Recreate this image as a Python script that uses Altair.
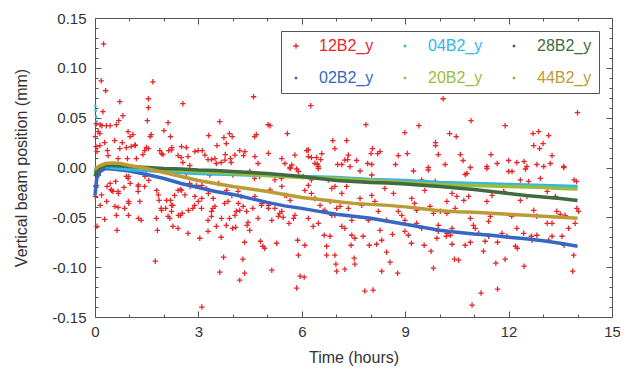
import altair as alt
import pandas as pd

SERIES = ["12B2_y", "02B2_y", "04B2_y", "20B2_y", "28B2_y", "44B2_y"]
COLORS = ["#e8262a", "#3667c2", "#2fb8e8", "#9cbc3c", "#3e6b40", "#bb9b35"]
CROSS = "M-1,0L1,0M0,-1L0,1"
DOT = "M-0.3,0A0.3,0.3,0,1,1,0.3,0A0.3,0.3,0,1,1,-0.3,0Z"
SHAPES = [CROSS, DOT, DOT, DOT, DOT, DOT]

# 12B2_y scatter (time in hours, position in mm)
red_pts = [
    (0.25,0.124),(0.18,0.087),(0.31,0.077),(1.68,0.086),(0.72,0.066),(1.55,0.069),(1.55,0.060),
    (2.55,0.064),(4.60,0.071),(0.23,0.056),(0.81,0.052),(0.69,0.047),(1.52,0.047),(2.12,0.045),
    (0.04,0.044),(0.20,0.042),(0.33,0.042),(0.44,0.042),(0.62,0.043),(3.62,0.046),(0.09,0.036),
    (0.14,0.034),(0.96,0.036),(1.10,0.033),(1.02,0.031),(1.63,0.033),(1.60,0.031),(2.00,0.037),
    (2.19,0.031),(3.30,0.032),(3.74,0.030),(3.90,0.034),(3.98,0.031),(3.81,0.024),(4.63,0.031),
    (4.68,0.033),(5.02,0.043),(0.14,0.022),(0.28,0.025),(0.57,0.027),(0.79,0.025),(1.05,0.021),
    (1.17,0.022),(1.49,0.020),(0.72,0.019),(0.91,0.020),(0.36,0.017),(0.38,0.012),(1.44,0.017),
    (1.39,0.013),(1.88,0.017),(1.97,0.013),(2.14,0.017),(2.23,0.020),(2.41,0.012),(2.50,0.010),
    (2.65,0.020),(2.70,0.011),(2.99,0.017),(3.11,0.017),(3.28,0.008),(3.38,0.008),(3.54,0.022),
    (3.78,0.013),(3.93,0.009),(3.95,0.005),(4.20,0.017),(4.31,0.012),(4.73,0.004),(0.94,0.009),
    (1.20,0.009),(2.55,0.005),(2.75,0.002),(3.52,0.004),(3.66,0.005),(0.67,0.009),
    (0.01,0.031),(0.03,0.021),(0.06,0.016),(0.15,0.043),
    (0.04,-0.018),(0.35,-0.019),(0.47,-0.022),(0.52,-0.024),(0.67,-0.024),(0.84,-0.020),(0.60,-0.014),
    (0.91,-0.009),(0.96,-0.011),(1.25,-0.019),(1.25,-0.024),(1.44,-0.019),(1.56,-0.013),(0.98,-0.036),
    (0.86,-0.041),(0.67,-0.040),(1.30,-0.034),(0.06,-0.059),(0.28,-0.052),(0.62,-0.048),(0.64,-0.063),
    (1.34,-0.053),(1.78,-0.051),(1.81,-0.063),(1.75,-0.094),(1.86,-0.033),(1.92,-0.041),(2.05,-0.041),
    (2.19,-0.033),(2.26,-0.038),(2.12,-0.049),(2.17,-0.051),(2.26,-0.059),(2.41,-0.061),(2.48,-0.048),
    (2.53,-0.046),(2.31,-0.028),(2.41,-0.023),(2.48,-0.022),(2.70,-0.066),(2.84,-0.041),(2.89,-0.038),
    (3.04,-0.071),(3.10,-0.140),(3.10,-0.031),(3.28,-0.053),(3.28,-0.064),(3.38,-0.044),(3.42,-0.041),
    (3.52,-0.059),(3.62,-0.105),(3.73,-0.090),(3.66,-0.070),(3.81,-0.058),(3.90,-0.051),(3.99,-0.061),
    (4.08,-0.060),(3.76,-0.036),(3.86,-0.034),(4.20,-0.113),(4.34,-0.106),(4.29,-0.092),(4.34,-0.075),
    (4.10,-0.044),(4.20,-0.043),(4.44,-0.055),(4.41,-0.058),(4.49,-0.063),(4.58,-0.041),(4.73,-0.051),
    (4.80,-0.074),(4.87,-0.079),(4.92,-0.081),(4.83,-0.038),(4.15,-0.024),(4.24,-0.029),(2.75,-0.016),
    (2.94,-0.018),(3.10,-0.018),(3.23,-0.021),(4.63,-0.011),(4.78,-0.009),
    (0.02,-0.019),(0.01,-0.029),(0.15,-0.038),
    (1.20,-0.001),(1.49,-0.0025),(2.07,-0.004),(2.65,-0.006),(3.33,-0.0075),(4.00,-0.0075),(4.49,-0.004),
    (0.10,-0.0075),(0.44,-0.016),(0.48,-0.023),(0.68,-0.026),(0.97,-0.009),(1.02,-0.016),(0.97,-0.034),
    (1.26,-0.0175),(1.45,-0.009),(1.79,-0.023),(1.84,-0.0275),(2.08,-0.033),(2.22,-0.038),(2.22,-0.044),
    (2.51,-0.023),(2.61,-0.0275),(2.76,-0.019),(2.90,-0.029),(3.00,-0.034),(3.09,-0.041),(3.29,-0.026),
    (3.43,-0.031),(3.48,-0.039),(3.58,-0.016),(3.82,-0.023),(3.97,-0.028),(4.16,-0.036),(4.30,-0.039),
    (4.40,-0.044),(4.64,-0.029),(4.84,-0.036),(5.03,-0.041),(5.22,-0.0125),(5.42,-0.019),(5.56,-0.028),
    (5.71,0.0025),(5.90,-0.004),(6.04,-0.009),(6.19,0.011),(6.38,0.0042),(6.48,-0.001),(6.77,-0.0125),
    (6.96,-0.019),(7.16,-0.026),(6.67,-0.043),(6.87,-0.048),(7.11,-0.039),(7.25,0.0075),(7.40,0.0008),
    (5.42,-0.044),(5.80,-0.048),(6.19,-0.051),(3.38,-0.049),(3.67,-0.051),(4.06,-0.048),(1.93,-0.043),
    (2.42,-0.048),(2.71,-0.043),(0.58,-0.039),(0.97,-0.048),(1.26,-0.051),(0.19,-0.0275),(0.34,-0.034),
    (1.16,0.0226),(1.55,0.019),(1.93,0.014),(2.22,0.0176),(2.51,0.021),(2.90,0.016),(3.19,0.0125),
    (3.48,0.009),(3.77,0.0075),(4.06,0.0125),(4.35,0.016),(4.64,0.011),(5.03,0.0142),(5.42,0.009),
    (5.80,0.0125),(6.19,0.0176),(6.58,0.014),(6.96,0.019),(7.35,0.0125),
    (6.26,0.062),(5.08,0.042),(7.86,0.043),(9.40,0.042),(5.58,0.034),(6.90,0.027),(7.30,0.027),
    (8.99,0.035),(9.88,0.025),(9.88,0.022),(6.14,0.017),(6.28,0.010),(6.43,0.010),(6.55,0.008),
    (6.45,0.0035),(8.05,0.019),(8.01,0.014),(8.20,0.014),(8.27,0.016),(8.80,0.012),(9.06,0.014),
    (9.96,0.013),(7.59,0.007),(7.04,0.003),(7.16,0.003),(7.33,0.008),(7.91,0.004),(8.03,0.003),
    (5.51,0.004),(5.66,0.000),(8.72,0.003),(9.67,0.000),
    (10.10,0.069),(14.00,0.055),(10.91,0.047),(11.90,0.042),(10.29,0.034),(10.48,0.031),(12.71,0.034),
    (12.87,0.036),(13.16,0.032),(13.00,0.024),(12.73,0.022),(12.90,0.019),(10.60,0.013),(10.68,0.007),
    (11.49,0.013),(11.67,0.004),(12.00,0.007),(12.24,0.005),(12.45,0.006),(13.26,0.012),(13.21,0.004),
    (13.60,0.000),(11.37,0.001),(10.16,0.003),(10.89,0.000),(12.53,0.001),(12.82,0.003),
    (5.13,-0.103),(5.85,-0.121),(5.95,-0.109),(6.07,-0.110),(5.27,-0.076),(5.90,-0.088),(5.88,-0.073),
    (6.09,-0.078),(6.72,-0.079),(6.72,-0.088),(6.96,-0.088),(6.99,-0.097),(7.01,-0.104),(7.25,-0.102),
    (7.43,-0.078),(7.52,-0.091),(7.54,-0.097),(7.83,-0.124),(8.07,-0.123),(8.32,-0.104),(8.56,-0.095),
    (8.78,-0.106),(8.46,-0.085),(7.96,-0.078),(8.17,-0.077),(9.18,-0.076),(9.55,-0.078),(9.75,-0.084),
    (9.82,-0.101),(5.32,-0.049),(5.46,-0.050),(5.63,-0.056),(5.76,-0.051),(6.33,-0.059),(6.48,-0.056),
    (7.16,-0.059),(7.25,-0.061),(6.65,-0.068),(6.82,-0.069),(7.45,-0.068),(7.54,-0.071),(7.78,-0.069),
    (8.27,-0.063),(8.32,-0.073),(8.63,-0.067),(8.99,-0.064),(9.09,-0.068),(9.33,-0.056),(9.48,-0.061),
    (9.96,-0.058),(9.96,-0.064),(5.03,-0.038),(5.22,-0.041),(5.36,-0.046),(5.66,-0.033),(5.51,-0.028),
    (6.09,-0.023),(6.19,-0.018),(6.28,-0.026),(6.53,-0.038),(6.62,-0.044),(6.96,-0.048),(7.01,-0.041),
    (7.69,-0.031),(7.74,-0.038),(8.03,-0.028),(8.12,-0.034),(8.41,-0.021),(8.66,-0.026),(8.80,-0.044),
    (8.90,-0.048),(9.19,-0.031),(9.27,-0.036),(9.57,-0.023),(9.72,-0.039),(9.82,-0.046),(5.66,-0.001),
    (5.85,-0.0015),(6.48,0.001),(7.69,-0.0035),(8.03,-0.0075),(9.24,-0.0035),(9.67,-0.0025),(5.41,-0.011),
    (6.28,-0.0125),(6.38,-0.031),(6.82,-0.034),(7.35,-0.041),(7.45,-0.053),(7.93,-0.053),(8.22,-0.044),
    (8.46,-0.053),(8.99,-0.053),(9.33,-0.043),(6.87,-0.021),(7.30,-0.019),(8.80,-0.014),(9.48,-0.0125),
    (9.87,-0.014),(5.08,-0.0226),(5.13,-0.053),
    (10.94,-0.138),(11.20,-0.126),(11.68,-0.122),(10.43,-0.092),(10.55,-0.093),(11.63,-0.096),(11.90,-0.092),
    (12.45,-0.099),(13.86,-0.104),(13.89,-0.088),(11.27,-0.084),(10.74,-0.078),(10.89,-0.075),(11.68,-0.075),
    (10.36,-0.077),(12.20,-0.079),(12.25,-0.081),(12.68,-0.073),(12.82,-0.068),(13.16,-0.073),(13.26,-0.069),
    (13.55,-0.069),(13.61,-0.078),(9.92,-0.071),(10.31,-0.068),(10.36,-0.061),(10.21,-0.066),(10.19,-0.069),
    (11.03,-0.061),(11.13,-0.066),(11.42,-0.069),(11.32,-0.074),(11.81,-0.066),(11.95,-0.069),(12.44,-0.066),
    (12.66,-0.069),(10.02,-0.044),(10.21,-0.046),(10.45,-0.041),(10.89,-0.051),(10.98,-0.058),(11.42,-0.054),
    (11.47,-0.049),(12.09,-0.049),(12.24,-0.061),(12.73,-0.043),(12.82,-0.049),(13.12,-0.056),(13.26,-0.056),
    (13.74,-0.061),(13.93,-0.056),(13.98,-0.041),(14.03,-0.044),(13.40,-0.044),(13.50,-0.047),(13.64,-0.048),
    (10.70,-0.033),(10.84,-0.029),(10.50,-0.029),(11.37,-0.034),(11.52,-0.028),(11.86,-0.024),(12.34,-0.033),
    (12.53,-0.029),(13.12,-0.024),(13.36,-0.029),(10.21,-0.034),(10.36,-0.026),(10.79,-0.006),(10.74,-0.007),
    (11.37,-0.001),(12.00,-0.004),(12.10,-0.004),(12.49,-0.0015),(13.02,0.001),(13.60,0.001),(13.90,-0.0125),
    (13.97,-0.014),(12.34,-0.0125),(12.58,-0.014),(12.92,-0.011),
]

# smooth monitors
smooth_t = [0.0, 0.05, 0.15, 0.3, 0.5, 0.75, 1.0, 1.5, 2.0, 2.5, 3.0, 3.5, 4.0, 4.5, 5.0, 5.5, 6.0,
            6.5, 7.0, 7.5, 8.0, 8.5, 9.0, 9.5, 10.0, 10.5, 11.0, 11.5, 12.0, 12.5, 13.0, 13.5, 14.0]
s02 = [-0.028,-0.011,-0.004,-0.001,-0.0015,-0.0025,-0.0035,-0.007,-0.011,-0.016,-0.020,-0.024,-0.027,
       -0.031,-0.035,-0.0385,-0.041,-0.044,-0.047,-0.049,-0.051,-0.054,-0.057,-0.060,-0.063,-0.065,
       -0.0667,-0.068,-0.070,-0.0715,-0.0735,-0.076,-0.079]
s04 = [-0.004,-0.001,0.001,0.001,0.000,-0.001,-0.002,-0.003,-0.004,-0.005,-0.006,-0.0065,-0.007,
       -0.0075,-0.008,-0.0085,-0.009,-0.0095,-0.010,-0.011,-0.012,-0.0125,-0.013,-0.014,-0.015,-0.0155,
       -0.016,-0.0165,-0.017,-0.0175,-0.018,-0.0185,-0.019]
s20 = [-0.006,-0.002,0.001,0.003,0.003,0.002,0.001,-0.001,-0.002,-0.003,-0.004,-0.005,-0.006,-0.007,
       -0.008,-0.009,-0.010,-0.0105,-0.011,-0.012,-0.013,-0.014,-0.015,-0.016,-0.017,-0.0175,-0.018,
       -0.0185,-0.019,-0.0195,-0.020,-0.021,-0.0215]
s28 = [-0.009,-0.004,0.000,0.002,0.002,0.0015,0.001,0.000,-0.001,-0.0015,-0.0025,-0.003,-0.004,-0.005,
       -0.006,-0.0075,-0.009,-0.011,-0.013,-0.014,-0.015,-0.0155,-0.0165,-0.0178,-0.019,-0.0205,-0.022,
       -0.024,-0.026,-0.028,-0.0295,-0.031,-0.033]
s44 = [-0.002,0.000,0.002,0.004,0.0045,0.004,0.002,-0.001,-0.005,-0.009,-0.013,-0.016,-0.019,-0.0215,
       -0.024,-0.027,-0.030,-0.032,-0.034,-0.036,-0.037,-0.038,-0.0395,-0.0415,-0.0435,-0.0445,-0.045,
       -0.046,-0.047,-0.048,-0.049,-0.050,-0.051]
cyan_extra_t = [0.01, 0.02, 0.03, 0.05]
cyan_extra_v = [0.062, 0.057, 0.051, 0.046]

x_major = [0, 3, 6, 9, 12, 15]
x_minor = [1, 2, 4, 5, 7, 8, 10, 11, 13, 14]
y_major = [-0.15, -0.10, -0.05, 0.0, 0.05, 0.10, 0.15]
y_minor = [-0.14, -0.13, -0.12, -0.11, -0.09, -0.08, -0.07, -0.06, -0.04, -0.03, -0.02, -0.01,
           0.01, 0.02, 0.03, 0.04, 0.06, 0.07, 0.08, 0.09, 0.11, 0.12, 0.13, 0.14]

W, H = 517, 299
FONT = "Liberation Sans"
TXT = "#333333"
TICK = "#555555"

df_red = pd.DataFrame({"t": [p[0] for p in red_pts], "v": [p[1] for p in red_pts], "series": "12B2_y"})
rows = []
for name, vals in [("02B2_y", s02), ("04B2_y", s04), ("20B2_y", s20), ("28B2_y", s28), ("44B2_y", s44)]:
    for t, v in zip(smooth_t, vals):
        rows.append({"t": t, "v": v, "series": name})
df_lines = pd.DataFrame(rows)
df_cyan = pd.DataFrame({"t": cyan_extra_t, "v": cyan_extra_v})

xs = alt.Scale(domain=[0, 15], nice=False, zero=False)
ys = alt.Scale(domain=[-0.15, 0.15], nice=False, zero=False)


def tick_axis(orient, values, size, offset):
    return alt.Axis(orient=orient, values=values, tickSize=size, offset=offset, labels=False,
                    domain=False, grid=False, title=None, ticks=True, tickColor=TICK, tickWidth=1)


label_expr_color = " : ".join(
    f"datum.value == '{s}' ? '{c}'" for s, c in zip(SERIES[:-1], COLORS[:-1])
) + f" : '{COLORS[-1]}'"

legend = alt.Legend(
    title=None, orient="none", legendX=186, legendY=13, columns=3,
    symbolSize=30, symbolStrokeWidth=1.3, labelFontSize=16, labelFont=FONT,
    labelOffset=15, columnPadding=23, rowPadding=16, padding=7,
    strokeColor="#555555", fillColor="white", labelLimit=0,
    labelColor={"expr": label_expr_color},
)

x_lab_axis = alt.Axis(orient="bottom", values=x_major, format="d", ticks=False, tickSize=0,
                      domain=False, grid=False, labelFontSize=15, labelPadding=7, labelFlush=False,
                      labelColor=TXT, labelFont=FONT, title="Time (hours)", titleFontSize=16,
                      titlePadding=10, titleFontWeight="normal", titleColor=TXT, titleFont=FONT)
y_lab_axis = alt.Axis(orient="left", values=y_major, format=".2f", ticks=False, tickSize=0,
                      domain=False, grid=False, labelFontSize=15, labelPadding=9, labelFlush=False,
                      labelColor=TXT, labelFont=FONT,
                      labelExpr="replace(datum.label, '\u2212', '-')",
                      title="Vertical beam position (mm)", titleFontSize=16, titlePadding=22,
                      titleFontWeight="normal", titleColor=TXT, titleFont=FONT)

red = alt.Chart(df_red).mark_point(shape=CROSS, filled=False, size=30, strokeWidth=1.3, opacity=1).encode(
    x=alt.X("t:Q", scale=xs, axis=x_lab_axis),
    y=alt.Y("v:Q", scale=ys, axis=y_lab_axis),
    color=alt.Color("series:N", scale=alt.Scale(domain=SERIES, range=COLORS), legend=legend),
    shape=alt.Shape("series:N", scale=alt.Scale(domain=SERIES, range=SHAPES), legend=legend),
)

lines = alt.Chart(df_lines).mark_line(strokeWidth=3.5).encode(
    x=alt.X("t:Q", scale=xs, axis=tick_axis("top", x_major, 6, -H)),
    y=alt.Y("v:Q", scale=ys, axis=tick_axis("right", y_major, 6, -W)),
    stroke=alt.Stroke("series:N", scale=alt.Scale(domain=SERIES, range=COLORS), legend=None),
)

cyan = alt.Chart(df_cyan).mark_circle(size=7, color="#2fb8e8", opacity=1).encode(
    x=alt.X("t:Q", scale=xs, axis=tick_axis("top", x_minor, 3, -H)),
    y=alt.Y("v:Q", scale=ys, axis=tick_axis("right", y_minor, 3, -W)),
)

ghost1 = alt.Chart(df_red).mark_point(opacity=0).encode(
    x=alt.X("t:Q", scale=xs, axis=tick_axis("bottom", x_major, 6, -H)),
    y=alt.Y("v:Q", scale=ys, axis=tick_axis("left", y_major, 6, -W)),
)
ghost2 = alt.Chart(df_red).mark_point(opacity=0).encode(
    x=alt.X("t:Q", scale=xs, axis=tick_axis("bottom", x_minor, 3, -H)),
    y=alt.Y("v:Q", scale=ys, axis=tick_axis("left", y_minor, 3, -W)),
)

chart = alt.layer(red, lines, cyan, ghost1, ghost2).resolve_axis(
    x="independent", y="independent"
).properties(
    width=W, height=H,
    autosize=alt.AutoSizeParams(type="none"),
    padding={"left": 87, "top": 10, "right": 8, "bottom": 49},
    background="white",
).configure_view(stroke="#555555", strokeWidth=1)

chart.save("out.html", embed_options={"renderer": "svg", "actions": False})
